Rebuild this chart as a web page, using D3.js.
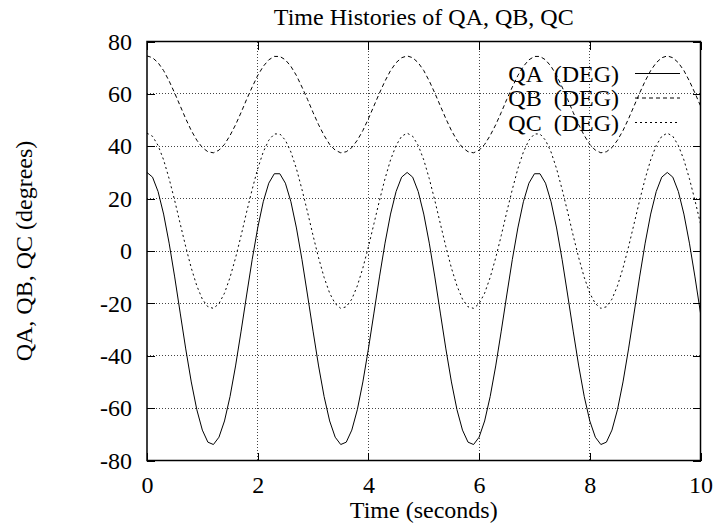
<!DOCTYPE html>
<html>
<head>
<meta charset="utf-8">
<script src="https://cdn.jsdelivr.net/npm/d3@7"></script>
<style>
  html, body { margin: 0; padding: 0; background: #fff; }
  svg { display: block; }
  text { font-family: "Liberation Serif", "DejaVu Serif", serif; fill: #000; }
</style>
</head>
<body>
<svg id="chart" width="717" height="527"></svg>
<script>
// Sample times (s), step 0.1 from 0 to 10
const time = [
  0.0,0.1,0.2,0.3,0.4,0.5,0.6,0.7,0.8,0.9,1.0,1.1,1.2,1.3,1.4,1.5,1.6,1.7,1.8,1.9,
  2.0,2.1,2.2,2.3,2.4,2.5,2.6,2.7,2.8,2.9,3.0,3.1,3.2,3.3,3.4,3.5,3.6,3.7,3.8,3.9,
  4.0,4.1,4.2,4.3,4.4,4.5,4.6,4.7,4.8,4.9,5.0,5.1,5.2,5.3,5.4,5.5,5.6,5.7,5.8,5.9,
  6.0,6.1,6.2,6.3,6.4,6.5,6.6,6.7,6.8,6.9,7.0,7.1,7.2,7.3,7.4,7.5,7.6,7.7,7.8,7.9,
  8.0,8.1,8.2,8.3,8.4,8.5,8.6,8.7,8.8,8.9,9.0,9.1,9.2,9.3,9.4,9.5,9.6,9.7,9.8,9.9,
  10.0
];

// QA (deg)
const qa = [
  30.0, 28.2, 22.7, 14.1, 3.0, -9.9, -23.7, -37.4, -50.0, -60.6,
  -68.4, -73.0, -73.9, -71.1, -64.9, -55.6, -43.9, -30.6, -16.8, -3.3,
  8.8, 18.8, 25.9, 29.5, 29.5, 25.9, 18.8, 8.8, -3.3, -16.8,
  -30.6, -43.9, -55.6, -64.9, -71.1, -73.9, -73.0, -68.4, -60.6, -50.0,
  -37.4, -23.7, -9.9, 3.0, 14.1, 22.7, 28.2, 30.0, 28.2, 22.7,
  14.1, 3.0, -9.9, -23.7, -37.4, -50.0, -60.6, -68.4, -73.0, -73.9,
  -71.1, -64.9, -55.6, -43.9, -30.6, -16.8, -3.3, 8.8, 18.8, 25.9,
  29.5, 29.5, 25.9, 18.8, 8.8, -3.3, -16.8, -30.6, -43.9, -55.6,
  -64.9, -71.1, -73.9, -73.0, -68.4, -60.6, -50.0, -37.4, -23.7, -9.9,
  3.0, 14.1, 22.7, 28.2, 30.0, 28.2, 22.7, 14.1, 3.0, -9.9,
  -23.7
];

// QB (deg)
const qb = [
  74.5, 73.8, 71.9, 68.9, 64.9, 60.3, 55.4, 50.5, 46.0, 42.3,
  39.5, 37.9, 37.5, 38.5, 40.7, 44.1, 48.2, 52.9, 57.9, 62.6,
  67.0, 70.5, 73.0, 74.3, 74.3, 73.0, 70.5, 67.0, 62.6, 57.9,
  52.9, 48.2, 44.1, 40.7, 38.5, 37.5, 37.9, 39.5, 42.3, 46.0,
  50.5, 55.4, 60.3, 64.9, 68.9, 71.9, 73.8, 74.5, 73.8, 71.9,
  68.9, 64.9, 60.3, 55.4, 50.5, 46.0, 42.3, 39.5, 37.9, 37.5,
  38.5, 40.7, 44.1, 48.2, 52.9, 57.9, 62.6, 67.0, 70.5, 73.0,
  74.3, 74.3, 73.0, 70.5, 67.0, 62.6, 57.9, 52.9, 48.2, 44.1,
  40.7, 38.5, 37.5, 37.9, 39.5, 42.3, 46.0, 50.5, 55.4, 60.3,
  64.9, 68.9, 71.9, 73.8, 74.5, 73.8, 71.9, 68.9, 64.9, 60.3,
  55.4
];

// QC (deg)
const qc = [
  45.0, 43.8, 40.3, 34.8, 27.6, 19.3, 10.4, 1.6, -6.5, -13.3,
  -18.4, -21.3, -21.9, -20.1, -16.1, -10.1, -2.6, 5.9, 14.9, 23.5,
  31.4, 37.8, 42.3, 44.7, 44.7, 42.3, 37.8, 31.4, 23.5, 14.9,
  5.9, -2.6, -10.1, -16.1, -20.1, -21.9, -21.3, -18.4, -13.3, -6.5,
  1.6, 10.4, 19.3, 27.6, 34.8, 40.3, 43.8, 45.0, 43.8, 40.3,
  34.8, 27.6, 19.3, 10.4, 1.6, -6.5, -13.3, -18.4, -21.3, -21.9,
  -20.1, -16.1, -10.1, -2.6, 5.9, 14.9, 23.5, 31.4, 37.8, 42.3,
  44.7, 44.7, 42.3, 37.8, 31.4, 23.5, 14.9, 5.9, -2.6, -10.1,
  -16.1, -20.1, -21.9, -21.3, -18.4, -13.3, -6.5, 1.6, 10.4, 19.3,
  27.6, 34.8, 40.3, 43.8, 45.0, 43.8, 40.3, 34.8, 27.6, 19.3,
  10.4
];

const seriesNames = ["QA  (DEG)", "QB  (DEG)", "QC  (DEG)"];
const xTicks = [0, 2, 4, 6, 8, 10];
const yTicks = [-80, -60, -40, -20, 0, 20, 40, 60, 80];

const titleText = "Time Histories of QA, QB, QC";
const xLabel = "Time (seconds)";
const yLabel = "QA, QB, QC (degrees)";

// ---- layout ----
const svg = d3.select("#chart");
const plotLeft = 147, plotRight = 700.5, plotTop = 41.5, plotBottom = 460.5;
const fontSize = 24;
const plain = d => String(d);   // ASCII hyphen for negatives

const x = d3.scaleLinear().domain([0, 10]).range([plotLeft, plotRight]);
const y = d3.scaleLinear().domain([-80, 80]).range([plotBottom, plotTop]);

// dotted grid
const grid = svg.append("g").attr("class", "grid");
grid.selectAll("line.gx").data(xTicks.slice(1, -1)).join("line")
  .attr("class", "gx")
  .attr("x1", d => x(d)).attr("x2", d => x(d))
  .attr("y1", plotTop).attr("y2", plotBottom);
grid.selectAll("line.gy").data(yTicks.slice(1, -1)).join("line")
  .attr("class", "gy")
  .attr("y1", d => y(d)).attr("y2", d => y(d))
  .attr("x1", plotLeft).attr("x2", plotRight);
grid.selectAll("line")
  .attr("stroke", "#444").attr("stroke-width", 1)
  .attr("stroke-dasharray", "1,2").attr("shape-rendering", "crispEdges");

// tick marks on all four sides, pointing inward
const tickLen = 8;
function styleTicks(g) {
  g.select(".domain").remove();
  g.selectAll(".tick text").remove();
  g.selectAll(".tick line").attr("stroke", "#000").attr("stroke-width", 1)
    .attr("shape-rendering", "crispEdges");
}
svg.append("g").attr("transform", `translate(0,${plotBottom})`)
  .call(d3.axisBottom(x).tickValues(xTicks).tickSize(-tickLen)).call(styleTicks);
svg.append("g").attr("transform", `translate(0,${plotTop})`)
  .call(d3.axisTop(x).tickValues(xTicks).tickSize(-tickLen)).call(styleTicks);
svg.append("g").attr("transform", `translate(${plotLeft},0)`)
  .call(d3.axisLeft(y).tickValues(yTicks).tickSize(-tickLen)).call(styleTicks);
svg.append("g").attr("transform", `translate(${plotRight},0)`)
  .call(d3.axisRight(y).tickValues(yTicks).tickSize(-tickLen)).call(styleTicks);

// tick labels
const xLab = svg.append("g")
  .attr("transform", `translate(0,${plotBottom})`)
  .call(d3.axisBottom(x).tickValues(xTicks).tickSize(0).tickPadding(15).tickFormat(plain));
xLab.select(".domain").remove();
xLab.selectAll("text").attr("font-size", fontSize)
  .attr("font-family", "Liberation Serif, serif").attr("fill", "#000");

const yLab = svg.append("g")
  .attr("transform", `translate(${plotLeft},0)`)
  .call(d3.axisLeft(y).tickValues(yTicks).tickSize(0).tickPadding(15).tickFormat(plain));
yLab.select(".domain").remove();
yLab.selectAll("text").attr("font-size", fontSize)
  .attr("font-family", "Liberation Serif, serif").attr("fill", "#000");

// curves
const styles = [
  { data: qa, dash: null },
  { data: qb, dash: "4,3" },
  { data: qc, dash: "2,3" }
];
const line = d3.line().x((d, i) => x(time[i])).y(d => y(d));
styles.forEach(s => {
  svg.append("path").datum(s.data)
    .attr("d", line)
    .attr("fill", "none").attr("stroke", "#000").attr("stroke-width", 1)
    .attr("stroke-dasharray", s.dash);
});

// legend
const legendY = [73.5, 98, 122.5];
const legend = svg.append("g");
seriesNames.forEach((name, i) => {
  legend.append("text")
    .attr("x", 619).attr("y", legendY[i] + 8)
    .attr("text-anchor", "end").attr("font-size", fontSize)
    .style("white-space", "pre")
    .text(name);
  legend.append("line")
    .attr("x1", 635).attr("x2", 680)
    .attr("y1", legendY[i]).attr("y2", legendY[i])
    .attr("stroke", "#000").attr("stroke-width", 1)
    .attr("stroke-dasharray", styles[i].dash);
});

// border
svg.append("rect")
  .attr("x", plotLeft).attr("y", plotTop)
  .attr("width", plotRight - plotLeft).attr("height", plotBottom - plotTop)
  .attr("fill", "none").attr("stroke", "#000").attr("stroke-width", 1.5);

// titles
svg.append("text")
  .attr("x", (plotLeft + plotRight) / 2).attr("y", 25)
  .attr("text-anchor", "middle").attr("font-size", fontSize)
  .text(titleText);
svg.append("text")
  .attr("x", (plotLeft + plotRight) / 2).attr("y", 518)
  .attr("text-anchor", "middle").attr("font-size", fontSize)
  .text(xLabel);
svg.append("text")
  .attr("transform", `translate(32,${(plotTop + plotBottom) / 2}) rotate(-90)`)
  .attr("text-anchor", "middle").attr("font-size", fontSize)
  .text(yLabel);
</script>
</body>
</html>
